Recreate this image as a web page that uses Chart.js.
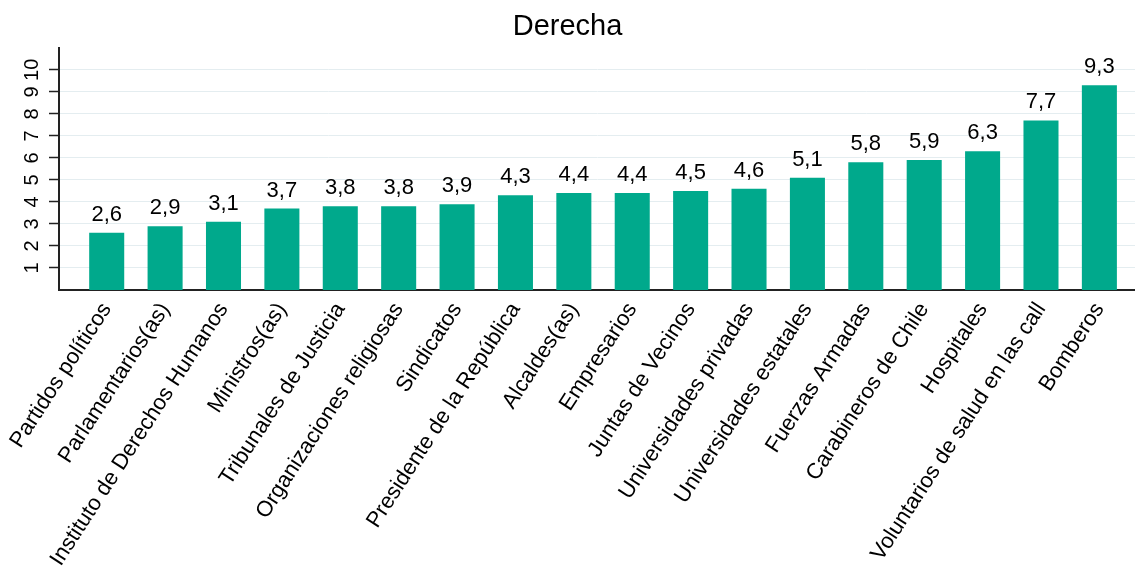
<!DOCTYPE html>
<html>
<head>
<meta charset="utf-8">
<script src="https://cdn.jsdelivr.net/npm/chart.js@4.4.0/dist/chart.umd.min.js"></script>
<style>
html, body { margin: 0; padding: 0; background: #fff; }
#wrap { width: 1135px; height: 584px; }
</style>
</head>
<body>
<div id="wrap"><canvas id="bar-chart" width="1135" height="584"></canvas></div>
<script>
'use strict'

//카테고리
const categories = [
	'Partidos políticos', 'Parlamentarios(as)', 'Instituto de Derechos Humanos', 'Ministros(as)',
	'Tribunales de Justicia', 'Organizaciones religiosas', 'Sindicatos', 'Presidente de la República',
	'Alcaldes(as)', 'Empresarios', 'Juntas de Vecinos', 'Universidades privadas',
	'Universidades estatales', 'Fuerzas Armadas', 'Carabineros de Chile', 'Hospitales',
	'Voluntarios de salud en las call', 'Bomberos'
];
//평균 점수
const values = [2.6, 2.9, 3.1, 3.7, 3.8, 3.8, 3.9, 4.3, 4.4, 4.4, 4.5, 4.6, 5.1, 5.8, 5.9, 6.3, 7.7, 9.3];
//y축 눈금
const yTicks = [1, 2, 3, 4, 5, 6, 7, 8, 9, 10];
const chartTitle = 'Derecha';

const FONT = '"Liberation Sans", Arial, sans-serif';
Chart.defaults.font.family = FONT;
Chart.defaults.color = '#000';

//막대 위 값 표시
const valueLabels = {
	id: 'valueLabels',
	afterDatasetsDraw(chart){
		const ctx = chart.ctx;
		const meta = chart.getDatasetMeta(0);
		ctx.save();
		ctx.font = '22px ' + FONT;
		ctx.fillStyle = '#000';
		ctx.textAlign = 'center';
		ctx.textBaseline = 'alphabetic';
		meta.data.forEach((bar, i) => {
			ctx.fillText(values[i].toFixed(1).replace('.', ','), bar.x, bar.y - 12);
		});
		ctx.restore();
	}
};

new Chart(document.getElementById('bar-chart'), {
	type: 'bar',
	data: {
		datasets: [{
			data: values.map((v, i) => ({ x: i, y: v })),
			backgroundColor: '#00a98c',
			barPercentage: 0.6,
			categoryPercentage: 1
		}]
	},
	options: {
		responsive: false,
		animation: false,
		devicePixelRatio: 1,
		layout: { padding: 0 },
		plugins: {
			legend: { display: false },
			tooltip: { enabled: false },
			title: {
				display: true,
				text: chartTitle,
				color: '#000',
				font: { size: 29, weight: 'normal' },
				padding: { top: 10, bottom: 3 }
			}
		},
		scales: {
			x: {
				type: 'linear',
				offset: false,
				min: -0.817,
				max: 17.61,
				grid: { display: false, drawTicks: false },
				border: { display: true, color: '#222', width: 2 },
				afterBuildTicks: (s) => { s.ticks = categories.map((c, i) => ({ value: i })); },
				afterFit: (s) => { s.height = 294; },
				ticks: {
					autoSkip: false,
					minRotation: 57,
					maxRotation: 57,
					padding: 8,
					color: '#000',
					font: { size: 22 },
					callback: (v) => categories[v]
				}
			},
			y: {
				min: 0,
				max: 11,
				afterBuildTicks: (s) => { s.ticks = yTicks.map((v) => ({ value: v })); },
				afterFit: (s) => { s.width = 59; },
				grid: { color: '#e4edf0', lineWidth: 1, tickColor: '#222', tickLength: 10, tickWidth: 1.5 },
				border: { display: true, color: '#222', width: 2 },
				ticks: {
					minRotation: 90,
					maxRotation: 90,
					crossAlign: 'center',
					padding: 5,
					color: '#000',
					font: { size: 20 },
					callback: (v) => String(v)
				}
			}
		}
	},
	plugins: [valueLabels]
});
</script>
</body>
</html>
